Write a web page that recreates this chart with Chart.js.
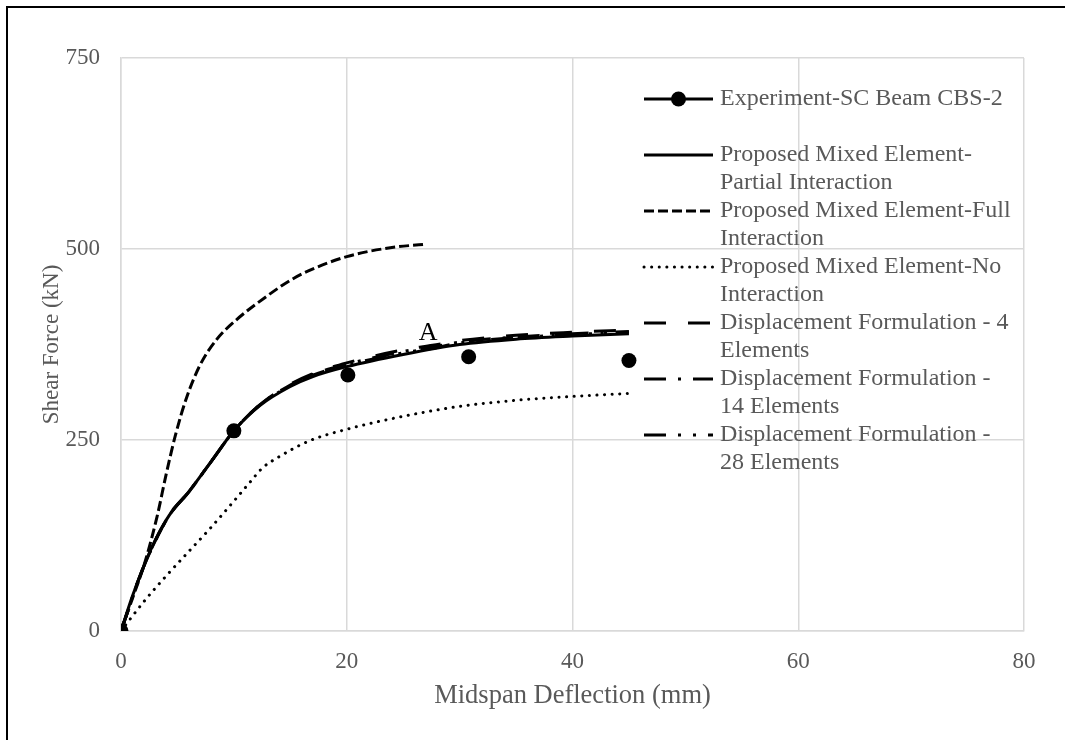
<!DOCTYPE html>
<html>
<head>
<meta charset="utf-8">
<script src="https://cdn.jsdelivr.net/npm/chart.js@4.4.0/dist/chart.umd.min.js"></script>
<style>
  html, body { margin: 0; padding: 0; background: #ffffff; }
  canvas { display: block; }
</style>
</head>
<body>
<canvas id="chart" width="1065" height="740"></canvas>
<script>
// Axis ranges and ticks
const xTicks = [0, 20, 40, 60, 80];
const yTicks = [0, 250, 500, 750];

// Experiment-SC Beam CBS-2 (test points)
const experimentX = [0, 10, 20.1, 30.8, 45];
const experimentY = [0, 262, 335, 359, 354];

// Proposed mixed element – partial interaction
const partialX = [0, 1, 2, 3, 4.3, 6, 8, 10, 12.3, 15, 17, 20, 25, 30, 35, 40, 45];
const partialY = [0, 45, 84, 118, 152, 182, 222, 262, 295, 320, 333, 346, 362, 375, 382, 386, 389];

// Proposed mixed element – full interaction
const fullX = [0, 1, 2.1, 3.2, 4, 4.8, 5.8, 7, 8.5, 10.2, 12.9, 15, 16.7, 20, 24, 26.8];
const fullY = [0, 42, 89, 150, 205, 255, 305, 348, 382, 407, 438, 459, 472, 490, 502, 506];

// Proposed mixed element – no interaction
const noneX = [0, 2, 4, 6, 8, 10, 11.5, 12.5, 14, 16.7, 20, 25, 30, 35, 40, 45];
const noneY = [0, 38, 72, 104, 136, 170, 196, 213, 228, 249, 264, 281, 294, 302, 307, 311];

// Displacement formulation with 4, 14 and 28 elements
const dispX = [0, 2, 4.3, 6, 8, 10, 12.3, 15, 17, 20, 25, 27.6, 30, 35, 40, 45];
const disp4Y = [0, 84, 152, 182, 222, 262, 296, 323, 337, 351, 368, 374, 380, 387, 391, 394];
const disp14Y = [0, 84, 152, 182, 222, 262, 296, 322, 336, 349, 366, 372, 378, 385, 389, 392];
const disp28Y = [0, 84, 152, 182, 222, 262, 296, 321, 335, 348, 364, 370, 377, 384, 388, 391];

// Legend texts (as wrapped lines)
const legendLines = [
  ["Experiment-SC Beam CBS-2"],
  ["Proposed Mixed Element-", "Partial Interaction"],
  ["Proposed Mixed Element-Full", "Interaction"],
  ["Proposed Mixed Element-No", "Interaction"],
  ["Displacement Formulation - 4", "Elements"],
  ["Displacement Formulation -", "14 Elements"],
  ["Displacement Formulation -", "28 Elements"]
];

// Point annotation
const noteText = "A";
const noteX = 27.2;
const noteY = 390;

const SERIF = '"Liberation Serif", "Times New Roman", serif';
const TEXT_GREY = '#595959';
const GRID_GREY = '#d9d9d9';

function pairs(xs, ys) { return xs.map((x, i) => ({ x: x, y: ys[i] })); }

function curve(label, xs, ys, dash, cap) {
  return {
    label: label,
    data: pairs(xs, ys),
    showLine: true,
    borderColor: '#000000',
    backgroundColor: '#000000',
    borderWidth: 3,
    borderDash: dash,
    borderCapStyle: cap || 'butt',
    pointRadius: 0,
    pointHoverRadius: 0,
    cubicInterpolationMode: 'monotone',
    fill: false
  };
}

const datasets = [
  {
    label: legendLines[0].join(' '),
    data: pairs(experimentX, experimentY),
    showLine: false,
    borderColor: '#000000',
    backgroundColor: '#000000',
    borderWidth: 3,
    borderDash: [],
    pointRadius: 7.5,
    pointHoverRadius: 7.5,
    pointBorderWidth: 0
  },
  curve(legendLines[1].join(' '), partialX, partialY, []),
  curve(legendLines[2].join(' '), fullX, fullY, [10, 4]),
  curve(legendLines[3].join(' '), noneX, noneY, [0.1, 7.5], 'round'),
  curve(legendLines[4].join(' '), dispX, disp4Y, [22, 22]),
  curve(legendLines[5].join(' '), dispX, disp14Y, [22, 12, 3, 12]),
  curve(legendLines[6].join(' '), dispX, disp28Y, [22, 12, 3, 12, 3, 12])
];

// White page with the black frame on the left and top edges
const framePlugin = {
  id: 'frame',
  beforeDraw(chart) {
    const ctx = chart.ctx;
    ctx.save();
    ctx.fillStyle = '#ffffff';
    ctx.fillRect(0, 0, chart.width, chart.height);
    ctx.strokeStyle = '#000000';
    ctx.lineWidth = 2;
    ctx.beginPath();
    ctx.moveTo(7, chart.height);
    ctx.lineTo(7, 7);
    ctx.lineTo(chart.width, 7);
    ctx.stroke();
    ctx.restore();
  }
};

// Legend drawn inside the plot area, with wrapped labels
const legendPlugin = {
  id: 'innerLegend',
  afterDatasetsDraw(chart) {
    const ctx = chart.ctx;
    const x0 = 644, x1 = 713, tx = 720;
    const firstY = 99, pitch = 56, lineH = 28;
    ctx.save();
    chart.data.datasets.forEach((ds, i) => {
      const y = firstY + i * pitch;
      ctx.strokeStyle = ds.borderColor;
      ctx.lineWidth = ds.borderWidth;
      ctx.lineCap = ds.borderCapStyle || 'butt';
      ctx.setLineDash(ds.borderDash || []);
      ctx.beginPath();
      ctx.moveTo(x0, y);
      ctx.lineTo(x1, y);
      ctx.stroke();
      ctx.setLineDash([]);
      if (ds.pointRadius > 0) {
        ctx.fillStyle = ds.backgroundColor;
        ctx.beginPath();
        ctx.arc((x0 + x1) / 2, y, ds.pointRadius, 0, Math.PI * 2);
        ctx.fill();
      }
      ctx.fillStyle = TEXT_GREY;
      ctx.font = '24px ' + SERIF;
      ctx.textAlign = 'left';
      ctx.textBaseline = 'middle';
      legendLines[i].forEach((t, k) => ctx.fillText(t, tx, y + k * lineH));
    });
    ctx.restore();
  }
};

// Letter marking a point on the curves
const notePlugin = {
  id: 'note',
  afterDatasetsDraw(chart) {
    const ctx = chart.ctx;
    const px = chart.scales.x.getPixelForValue(noteX);
    const py = chart.scales.y.getPixelForValue(noteY);
    ctx.save();
    ctx.fillStyle = '#000000';
    ctx.font = '26px ' + SERIF;
    ctx.textAlign = 'center';
    ctx.textBaseline = 'middle';
    ctx.fillText(noteText, px, py);
    ctx.restore();
  }
};

new Chart(document.getElementById('chart'), {
  type: 'scatter',
  data: { datasets: datasets },
  options: {
    responsive: false,
    animation: false,
    devicePixelRatio: 1,
    layout: { padding: { left: 0, right: 41, top: 58, bottom: 0 } },
    plugins: {
      legend: { display: false },
      tooltip: { enabled: false }
    },
    scales: {
      x: {
        type: 'linear',
        min: xTicks[0],
        max: xTicks[xTicks.length - 1],
        afterBuildTicks(scale) { scale.ticks = xTicks.map(v => ({ value: v })); },
        afterFit(scale) { scale.height = 109; },
        ticks: {
          color: TEXT_GREY,
          font: { family: SERIF, size: 23 },
          padding: 17
        },
        grid: { color: GRID_GREY, lineWidth: 1.5, drawTicks: false },
        border: { color: GRID_GREY, width: 1.5 },
        title: {
          display: true,
          text: 'Midspan Deflection (mm)',
          color: TEXT_GREY,
          font: { family: SERIF, size: 26.5 },
          padding: { top: 0, bottom: 28 }
        }
      },
      y: {
        type: 'linear',
        min: yTicks[0],
        max: yTicks[yTicks.length - 1],
        afterBuildTicks(scale) { scale.ticks = yTicks.map(v => ({ value: v })); },
        afterFit(scale) { scale.width = 121; },
        ticks: {
          color: TEXT_GREY,
          font: { family: SERIF, size: 23 },
          padding: 21
        },
        grid: { color: GRID_GREY, lineWidth: 1.5, drawTicks: false },
        border: { color: GRID_GREY, width: 1.5 },
        title: {
          display: true,
          text: 'Shear Force (kN)',
          color: TEXT_GREY,
          font: { family: SERIF, size: 23 },
          padding: { top: 38, bottom: 0 }
        }
      }
    }
  },
  plugins: [framePlugin, legendPlugin, notePlugin]
});
</script>
</body>
</html>
